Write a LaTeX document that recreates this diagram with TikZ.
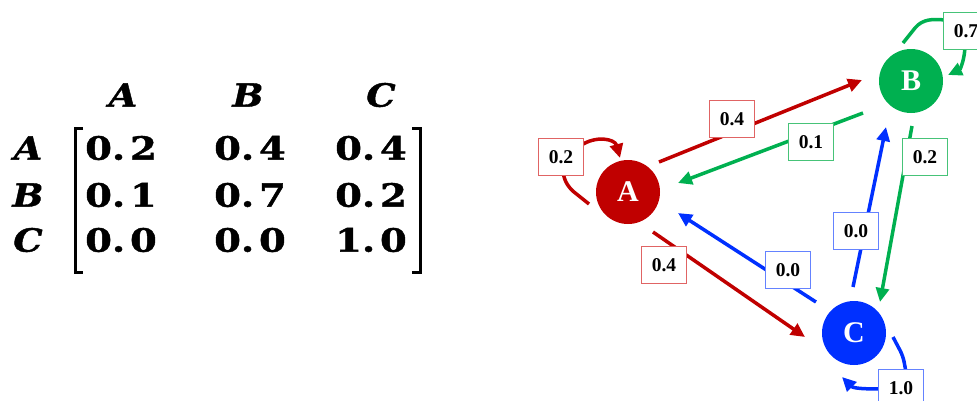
\documentclass[tikz,border=0pt]{standalone}
\usepackage{fontspec}
\setmainfont{Liberation Serif}
\newfontfamily\matfont{DejaVu Serif}[BoldFeatures={FakeBold=1.2},BoldItalicFeatures={FakeBold=1.2}]
\usetikzlibrary{arrows.meta,calc}
\definecolor{cr}{RGB}{192,0,0}
\definecolor{cg}{RGB}{0,176,80}
\definecolor{cb}{RGB}{0,48,255}
\definecolor{crl}{RGB}{224,100,100}
\definecolor{cgl}{RGB}{70,195,120}
\definecolor{cbl}{RGB}{100,130,255}
\newcommand{\mtx}[1]{\scalebox{1.2}[1]{\matfont\bfseries #1}}
\newcommand{\mlt}[1]{\scalebox{1.15}[1]{\matfont\bfseries\itshape #1}}
\begin{document}
\begin{tikzpicture}[x=1pt,y=-1pt,
  state/.style={circle,minimum size=64pt,inner sep=0pt,text=white,font=\fontsize{30}{32}\selectfont\bfseries},
  lbl/.style={draw,fill=white,line width=1pt,minimum width=45pt,minimum height=37pt,inner sep=0pt,font=\fontsize{19.5}{21}\selectfont\bfseries},
  tip/.style={-{Triangle[length=14pt,width=13pt]}},
  edge/.style={line width=3.5pt,tip},
  loopline/.style={line width=3.5pt},
  mat/.style={inner sep=0pt,font=\fontsize{32}{34}\selectfont}]
\useasboundingbox (0,0) rectangle (977,400);
% matrix
\node[mat] (hA) at (123,95) {\mlt{A}};
\node[mat] (hB) at (248,95) {\mlt{B}};
\node[mat] (hC) at (381,95) {\mlt{C}};
\node[mat] (rA) at (28,148) {\mlt{A}};
\node[mat] (rB) at (28,195) {\mlt{B}};
\node[mat] (rC) at (28,240) {\mlt{C}};
\node[mat] (m11) at (121,148) {\mtx{0.\hspace{4pt}2}};
\node[mat] (m12) at (250,148) {\mtx{0.\hspace{4pt}4}};
\node[mat] (m13) at (371,148) {\mtx{0.\hspace{4pt}4}};
\node[mat] (m21) at (121,195) {\mtx{0.\hspace{4pt}1}};
\node[mat] (m22) at (250,195) {\mtx{0.\hspace{4pt}7}};
\node[mat] (m23) at (371,195) {\mtx{0.\hspace{4pt}2}};
\node[mat] (m31) at (121,240) {\mtx{0.\hspace{4pt}0}};
\node[mat] (m32) at (250,240) {\mtx{0.\hspace{4pt}0}};
\node[mat] (m33) at (371,240) {\mtx{1.\hspace{4pt}0}};
\draw[line width=3pt] (83,128) -- (75,128) -- (75,272) -- (83,272);
\draw[line width=3pt] (412,128) -- (420,128) -- (420,272) -- (412,272);
% states
\node[state,fill=cr] (A) at (628,192) {A};
\node[state,fill=cg] (B) at (911,81) {B};
\node[state,fill=cb] (C) at (854,333) {C};
% edges
\draw[edge,cr] ($(A)+(31,-30)$) -- ($(B)+(-49,-1)$);
\draw[edge,cg] ($(B)+(-48,32)$) -- ($(A)+(50,-9)$);
\draw[edge,cg] ($(B)+(1,45)$) -- ($(C)+(26,-31)$);
\draw[edge,cb] ($(C)+(-1,-46)$) -- ($(B)+(-25,46)$);
\draw[edge,cb] ($(C)+(-38,-31)$) -- ($(A)+(50,21)$);
\draw[edge,cr] ($(A)+(25,40)$) -- ($(C)+(-49,4)$);
% self loops
\draw[loopline,cr,rounded corners=6pt] ($(A)+(-39,12)$) -- (569,188) -- (563,176) -- (563,150);
\draw[loopline,cr,tip] (580,146) to[out=35,in=105,looseness=1.2] ($(A)+(-8,-34)$);
\draw[loopline,cg] ($(B)+(-8,-38)$) -- (915,28) to[out=50,in=175] (945,20);
\draw[loopline,cg,tip] (965,45) to[out=-90,in=25] ($(B)+(37,-6)$);
\draw[loopline,cb,rounded corners=6pt] ($(C)+(39,4)$) -- (903,356) -- (906,372);
\draw[loopline,cb,tip] (882,389) to[out=180,in=-45] ($(C)+(-12,44)$);
% labels
\node[lbl,draw=crl] (lAB) at (732,119) {0.4};
\node[lbl,draw=cgl] (lBA) at (811,142) {0.1};
\node[lbl,draw=cgl] (lBC) at (925,157) {0.2};
\node[lbl,draw=cbl] (lCB) at (856,231) {0.0};
\node[lbl,draw=cbl] (lCA) at (788,270) {0.0};
\node[lbl,draw=crl] (lAC) at (664,265) {0.4};
\node[lbl,draw=crl] (lAA) at (561,157) {0.2};
\node[lbl,draw=cgl] (lBB) at (966,31) {0.7};
\node[lbl,draw=cbl] (lCC) at (901,388) {1.0};
\end{tikzpicture}
\end{document}
